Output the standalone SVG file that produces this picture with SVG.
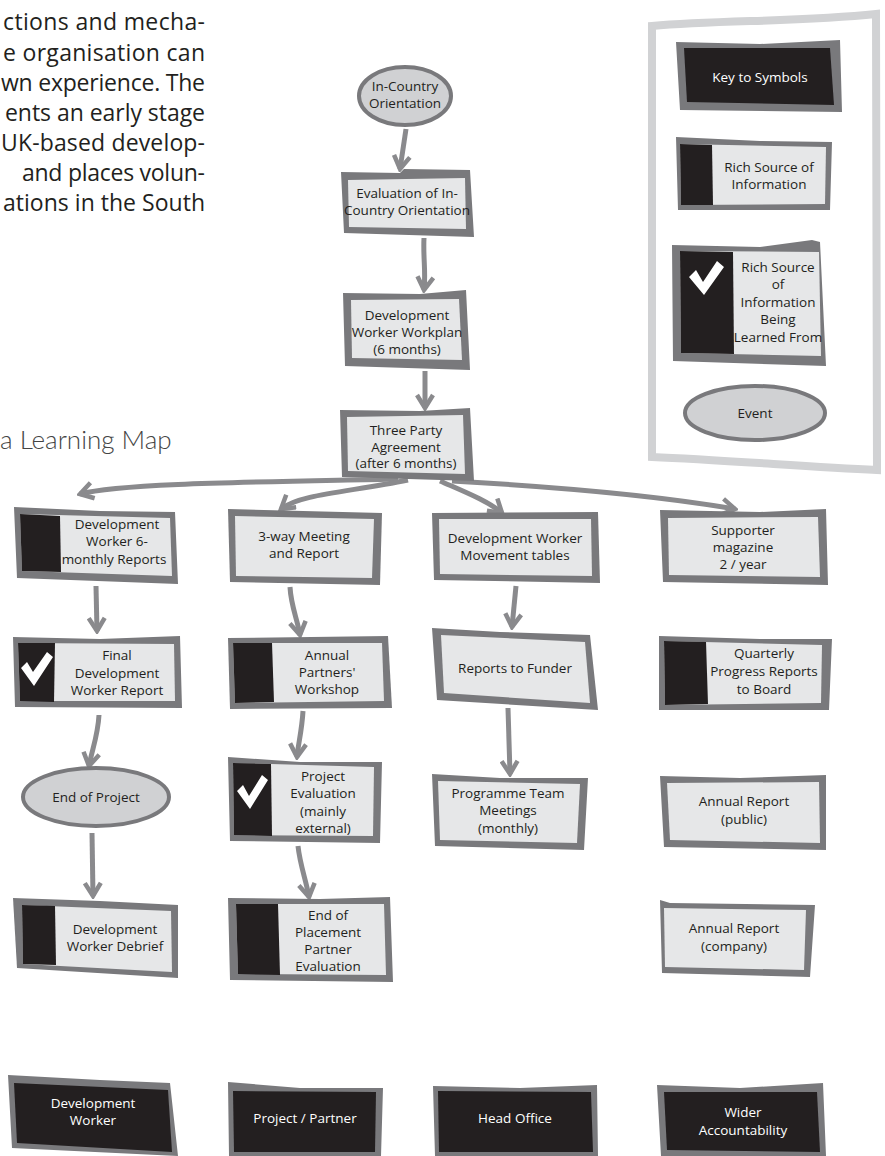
<svg xmlns="http://www.w3.org/2000/svg" width="885" height="1156" viewBox="0 0 885 1156">
<defs>
<style>
.b{fill:#79797c}
.f{fill:#e6e7e8}
.d{fill:#231f20}
.k{fill:#fff}
.t{font-family:"Open Sans","Liberation Sans",sans-serif;font-size:13.5px;fill:#231f20;text-anchor:middle}
.tw{font-family:"Open Sans","Liberation Sans",sans-serif;font-size:13.5px;fill:#fff;text-anchor:middle}
.e{fill:#d0d1d3;stroke:#79797c;stroke-width:4}
.c{fill:none;stroke:#8a8a8d;stroke-width:5;marker-end:url(#ah)}
.body{font-family:"Open Sans","Liberation Sans",sans-serif;font-size:23px;fill:#231f20}
</style>
<marker id="ah" viewBox="0 0 18 20" refX="15" refY="10" markerWidth="18" markerHeight="20" markerUnits="userSpaceOnUse" orient="auto">
<path d="M2,2 L15,10 L2,18" fill="none" stroke="#8a8a8d" stroke-width="4.5"/>
</marker>
</defs>
<rect width="885" height="1156" fill="#fff"/>

<g id="bodytext" class="body">
<text x="3" y="30" textLength="202" lengthAdjust="spacing">ctions and mecha-</text>
<text x="3" y="61" textLength="202" lengthAdjust="spacing">e organisation can</text>
<text x="1" y="91" textLength="204" lengthAdjust="spacing">wn experience. The</text>
<text x="5" y="121" textLength="200" lengthAdjust="spacing">ents an early stage</text>
<text x="1" y="151" textLength="204" lengthAdjust="spacing">UK-based develop-</text>
<text x="22" y="181" textLength="183" lengthAdjust="spacing">and places volun-</text>
<text x="3" y="211" textLength="202" lengthAdjust="spacing">ations in the South</text>
</g>
<text id="title" x="0" y="449" font-family="Lato,'Open Sans',sans-serif" font-weight="300" font-size="26" fill="#444">a Learning Map</text>

<g id="keyframe">
<path d="M652,26 C720,20 800,22 876,14 L877,470 C800,466 720,460 652,457 Z" fill="none" stroke="#d1d2d4" stroke-width="8"/>
</g>

<g id="connectors">
<path class="c" d="M406,129 L400,169"/>
<path class="c" d="M424,238 C423,258 426,272 424,290"/>
<path class="c" d="M425,371 L425,408"/>
<path class="c" d="M398,479 C260,482 120,483 80,494"/>
<path class="c" d="M408,480 C350,492 300,494 281,509"/>
<path class="c" d="M440,481 C465,492 488,501 502,513"/>
<path class="c" d="M452,481 C560,487 660,496 735,509"/>
<path class="c" d="M96,586 L97,631"/>
<path class="c" d="M290,587 C291,606 297,618 300,635"/>
<path class="c" d="M516,586 L512,627"/>
<path class="c" d="M99,715 C98,735 92,750 89,766"/>
<path class="c" d="M303,711 C302,730 298,745 297,757"/>
<path class="c" d="M508,708 L510,774"/>
<path class="c" d="M92,833 L93,896"/>
<path class="c" d="M298,846 C300,865 306,880 309,897"/>
</g>

<g id="n-orientation">
<ellipse class="e" cx="405" cy="96" rx="46" ry="29"/>
<text class="t"><tspan x="405" y="91">In-Country</tspan><tspan x="405" y="108">Orientation</tspan></text>
</g>

<g id="n-evaluation">
<path class="b" d="M341,172 L400,173 L404,169 L470,170 L474,237 L344,233 Z"/>
<path class="f" d="M348,180 L465,178 L466,229 L349,227 Z"/>
<text class="t"><tspan x="407" y="198">Evaluation of In-</tspan><tspan x="407" y="215">Country Orientation</tspan></text>
</g>

<g id="n-workplan">
<path class="b" d="M343,293 L420,294 L466,290 L470,370 L345,366 Z"/>
<path class="f" d="M351,300 L459,299 L462,360 L352,358 Z"/>
<text class="t"><tspan x="407" y="320">Development</tspan><tspan x="407" y="337">Worker Workplan</tspan><tspan x="407" y="354">(6 months)</tspan></text>
</g>

<g id="n-threeparty">
<path class="b" d="M340,410 L420,411 L470,408 L474,481 L342,477 Z"/>
<path class="f" d="M347,417 L463,415 L465,474 L348,471 Z"/>
<text class="t"><tspan x="406" y="435">Three Party</tspan><tspan x="406" y="452">Agreement</tspan><tspan x="406" y="468">(after 6 months)</tspan></text>
</g>

<g id="n-dw6">
<path class="b" d="M14,507 L100,511 L175,512 L178,584 L17,578 Z"/>
<path class="f" d="M20,514 L170,518 L172,576 L22,571 Z"/>
<path class="d" d="M20,514 L60,516 L61,572 L22,571 Z"/>
<text class="t"><tspan x="117" y="529">Development</tspan><tspan x="117" y="546">Worker 6-</tspan><tspan x="114" y="564">monthly Reports</tspan></text>
</g>

<g id="n-threeway">
<path class="b" d="M228,509 L382,513 L380,585 L230,582 Z"/>
<path class="f" d="M235,516 L374,519 L372,578 L236,576 Z"/>
<text class="t"><tspan x="304" y="541">3-way Meeting</tspan><tspan x="304" y="558">and Report</tspan></text>
</g>

<g id="n-movement">
<path class="b" d="M432,513 L598,512 L600,583 L434,580 Z"/>
<path class="f" d="M439,519 L591,519 L592,576 L440,574 Z"/>
<text class="t"><tspan x="515" y="543">Development Worker</tspan><tspan x="515" y="560">Movement tables</tspan></text>
</g>

<g id="n-supporter">
<path class="b" d="M660,510 L760,512 L826,509 L828,585 L663,582 Z"/>
<path class="f" d="M668,518 L818,517 L820,577 L669,575 Z"/>
<text class="t"><tspan x="743" y="535">Supporter</tspan><tspan x="743" y="552">magazine</tspan><tspan x="743" y="569">2 / year</tspan></text>
</g>

<g id="n-final">
<path class="b" d="M13,637 L100,639 L180,636 L182,708 L15,707 Z"/>
<path class="f" d="M18,643 L174,644 L175,701 L20,701 Z"/>
<path class="d" d="M18,643 L55,643 L54,702 L20,701 Z"/>
<path class="k" d="M21,668 L27,662 L33,672 L47,652 L53,657 L34,686 Z"/>
<text class="t"><tspan x="117" y="660">Final</tspan><tspan x="117" y="678">Development</tspan><tspan x="117" y="695">Worker Report</tspan></text>
</g>

<g id="n-workshop">
<path class="b" d="M228,638 L388,636 L392,708 L230,709 Z"/>
<path class="f" d="M233,643 L382,643 L384,701 L235,703 Z"/>
<path class="d" d="M233,643 L272,643 L274,702 L235,703 Z"/>
<text class="t"><tspan x="327" y="660">Annual</tspan><tspan x="327" y="677">Partners'</tspan><tspan x="327" y="694">Workshop</tspan></text>
</g>

<g id="n-funder">
<path class="b" d="M432,628 L500,632 L590,635 L598,710 L437,700 Z"/>
<path class="f" d="M441,635 L585,642 L590,703 L444,693 Z"/>
<text class="t"><tspan x="515" y="673">Reports to Funder</tspan></text>
</g>

<g id="n-quarterly">
<path class="b" d="M659,636 L760,639 L832,639 L829,710 L659,710 Z"/>
<path class="f" d="M664,641 L822,645 L821,703 L665,705 Z"/>
<path class="d" d="M664,641 L706,642 L708,704 L665,705 Z"/>
<text class="t"><tspan x="764" y="658">Quarterly</tspan><tspan x="764" y="676">Progress Reports</tspan><tspan x="764" y="694">to Board</tspan></text>
</g>

<g id="n-endproject">
<ellipse class="e" cx="96" cy="797" rx="73" ry="29"/>
<text class="t"><tspan x="96" y="802">End of Project</tspan></text>
</g>

<g id="n-projeval">
<path class="b" d="M228,757 L300,762 L382,762 L380,843 L230,841 Z"/>
<path class="f" d="M233,763 L374,767 L373,836 L234,835 Z"/>
<path class="d" d="M233,763 L271,764 L272,836 L234,835 Z"/>
<path class="k" d="M237,791 L243,785 L249,796 L262,775 L268,780 L250,809 Z"/>
<text class="t"><tspan x="323" y="781">Project</tspan><tspan x="323" y="798">Evaluation</tspan><tspan x="323" y="816">(mainly</tspan><tspan x="323" y="833">external)</tspan></text>
</g>

<g id="n-progteam">
<path class="b" d="M432,774 L500,778 L588,778 L584,850 L435,846 Z"/>
<path class="f" d="M438,781 L580,784 L577,843 L440,840 Z"/>
<text class="t"><tspan x="508" y="798">Programme Team</tspan><tspan x="508" y="815">Meetings</tspan><tspan x="508" y="833">(monthly)</tspan></text>
</g>

<g id="n-annpublic">
<path class="b" d="M660,776 L740,778 L826,775 L826,850 L664,847 Z"/>
<path class="f" d="M667,783 L819,782 L820,843 L670,840 Z"/>
<text class="t"><tspan x="744" y="806">Annual Report</tspan><tspan x="744" y="824">(public)</tspan></text>
</g>

<g id="n-debrief">
<path class="b" d="M13,898 L100,901 L178,905 L178,978 L17,968 Z"/>
<path class="f" d="M22,905 L171,911 L172,972 L23,964 Z"/>
<path class="d" d="M22,905 L55,906 L56,965 L23,964 Z"/>
<text class="t"><tspan x="115" y="934">Development</tspan><tspan x="115" y="951">Worker Debrief</tspan></text>
</g>

<g id="n-endplacement">
<path class="b" d="M228,898 L320,899 L390,897 L393,982 L230,980 Z"/>
<path class="f" d="M236,904 L384,904 L386,975 L238,974 Z"/>
<path class="d" d="M236,904 L278,904 L280,975 L238,974 Z"/>
<text class="t"><tspan x="328" y="920">End of</tspan><tspan x="328" y="937">Placement</tspan><tspan x="328" y="954">Partner</tspan><tspan x="328" y="971">Evaluation</tspan></text>
</g>

<g id="n-anncompany">
<path class="b" d="M660,900 L670,903 L815,905 L810,977 L662,973 Z"/>
<path class="f" d="M664,908 L806,910 L804,970 L665,967 Z"/>
<text class="t"><tspan x="734" y="933">Annual Report</tspan><tspan x="734" y="951">(company)</tspan></text>
</g>

<g id="n-devworker">
<path class="b" d="M8,1075 L100,1080 L170,1083 L178,1156 L12,1148 Z"/>
<path class="d" d="M14,1083 L168,1090 L172,1152 L17,1143 Z"/>
<text class="tw"><tspan x="93" y="1108">Development</tspan><tspan x="93" y="1125">Worker</tspan></text>
</g>

<g id="n-projpartner">
<path class="b" d="M228,1082 L300,1088 L383,1088 L381,1156 L229,1156 Z"/>
<path class="d" d="M233,1091 L376,1092 L375,1152 L234,1152 Z"/>
<text class="tw"><tspan x="305" y="1123">Project / Partner</tspan></text>
</g>

<g id="n-headoffice">
<path class="b" d="M433,1086 L520,1088 L597,1085 L598,1156 L435,1156 Z"/>
<path class="d" d="M438,1091 L591,1092 L593,1152 L439,1152 Z"/>
<text class="tw"><tspan x="515" y="1123">Head Office</tspan></text>
</g>

<g id="n-wider">
<path class="b" d="M657,1085 L740,1088 L823,1083 L826,1156 L661,1156 Z"/>
<path class="d" d="M664,1092 L817,1092 L820,1152 L667,1150 Z"/>
<text class="tw"><tspan x="743" y="1117">Wider</tspan><tspan x="743" y="1135">Accountability</tspan></text>
</g>

<g id="k-title">
<path class="b" d="M676,42 L760,44 L840,40 L842,112 L680,110 Z"/>
<path class="d" d="M684,48 L830,48 L834,105 L687,102 Z"/>
<text class="tw"><tspan x="760" y="82">Key to Symbols</tspan></text>
</g>

<g id="k-rich">
<path class="b" d="M676,137 L760,141 L832,142 L830,210 L678,210 Z"/>
<path class="f" d="M680,144 L826,147 L825,204 L681,205 Z"/>
<path class="d" d="M680,144 L712,145 L713,205 L681,205 Z"/>
<text class="t"><tspan x="769" y="172">Rich Source of</tspan><tspan x="769" y="189">Information</tspan></text>
</g>

<g id="k-richlearn">
<path class="b" d="M672,245 L760,247 L812,240 L820,242 L826,366 L673,361 Z"/>
<path class="f" d="M680,251 L819,252 L821,356 L681,353 Z"/>
<path class="d" d="M680,251 L733,252 L734,354 L681,353 Z"/>
<path class="k" d="M689,277 L696,270 L703,282 L717,261 L724,267 L704,295 Z"/>
<text class="t"><tspan x="778" y="272">Rich Source</tspan><tspan x="778" y="289">of</tspan><tspan x="778" y="307">Information</tspan><tspan x="778" y="324">Being</tspan><tspan x="778" y="342">Learned From</tspan></text>
</g>

<g id="k-event">
<ellipse class="e" cx="755" cy="413" rx="70" ry="27"/>
<text class="t"><tspan x="755" y="418">Event</tspan></text>
</g>
</svg>
